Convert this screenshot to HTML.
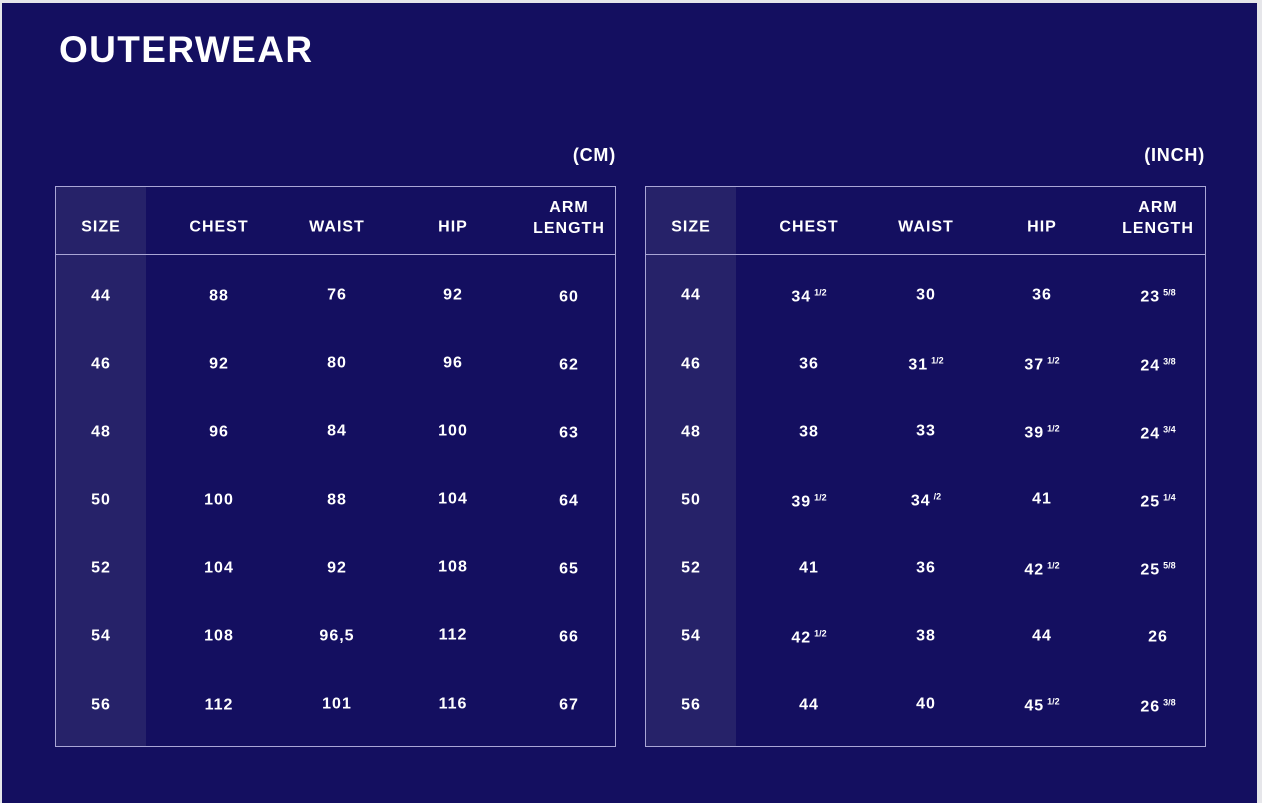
<!DOCTYPE html>
<html><head><meta charset="utf-8"><style>
html,body{margin:0;padding:0}
body{width:1262px;height:803px;background:#e6e6ea;position:relative;overflow:hidden;font-family:"Liberation Sans",sans-serif;color:#fff}
#bg{position:absolute;left:2px;top:3px;width:1255px;height:800px;background:#140f60}
.t{position:absolute;font-weight:bold}
.title{left:59px;top:29px;font-size:37px;letter-spacing:1.4px}
.unit{font-size:18px;top:145px;letter-spacing:.8px}
.tbl{position:absolute;top:186px;width:559px;height:559px;border:1px solid #a9a6d6;box-sizing:content-box}
.sz{position:absolute;left:0;top:0;width:90px;height:100%;background:#262269}
.hl{position:absolute;left:0;right:0;top:67px;height:1px;background:#a9a6d6}
.c{position:absolute;transform:translate(-50%,-50%);font-weight:bold;font-size:16px;letter-spacing:1px;text-align:center;white-space:nowrap;line-height:21px}
.c sup{font-size:9px;vertical-align:6px;margin-left:3px;letter-spacing:0}
</style></head><body>
<div id="bg"></div>
<div class="t title">OUTERWEAR</div>
<div class="t unit" style="right:646px">(CM)</div>
<div class="t unit" style="right:57px">(INCH)</div>

<div class="tbl" style="left:55px">
<div class="sz"></div><div class="hl"></div>
<div class="c" style="left:45px;top:40px">SIZE</div>
<div class="c" style="left:163px;top:40px">CHEST</div>
<div class="c" style="left:281px;top:40px">WAIST</div>
<div class="c" style="left:397px;top:40px">HIP</div>
<div class="c" style="left:513px;top:31px">ARM<br>LENGTH</div>

<div class="c" style="left:45px;top:109px">44</div><div class="c" style="left:163px;top:109px">88</div><div class="c" style="left:281px;top:108px">76</div><div class="c" style="left:397px;top:108px">92</div><div class="c" style="left:513px;top:110px">60</div>
<div class="c" style="left:45px;top:177px">46</div><div class="c" style="left:163px;top:177px">92</div><div class="c" style="left:281px;top:176px">80</div><div class="c" style="left:397px;top:176px">96</div><div class="c" style="left:513px;top:178px">62</div>
<div class="c" style="left:45px;top:245px">48</div><div class="c" style="left:163px;top:245px">96</div><div class="c" style="left:281px;top:244px">84</div><div class="c" style="left:397px;top:244px">100</div><div class="c" style="left:513px;top:246px">63</div>
<div class="c" style="left:45px;top:313px">50</div><div class="c" style="left:163px;top:313px">100</div><div class="c" style="left:281px;top:313px">88</div><div class="c" style="left:397px;top:312px">104</div><div class="c" style="left:513px;top:314px">64</div>
<div class="c" style="left:45px;top:381px">52</div><div class="c" style="left:163px;top:381px">104</div><div class="c" style="left:281px;top:381px">92</div><div class="c" style="left:397px;top:380px">108</div><div class="c" style="left:513px;top:382px">65</div>
<div class="c" style="left:45px;top:449px">54</div><div class="c" style="left:163px;top:449px">108</div><div class="c" style="left:281px;top:449px">96,5</div><div class="c" style="left:397px;top:448px">112</div><div class="c" style="left:513px;top:450px">66</div>
<div class="c" style="left:45px;top:518px">56</div><div class="c" style="left:163px;top:518px">112</div><div class="c" style="left:281px;top:517px">101</div><div class="c" style="left:397px;top:517px">116</div><div class="c" style="left:513px;top:518px">67</div>
</div>

<div class="tbl" style="left:645px">
<div class="sz"></div><div class="hl"></div>
<div class="c" style="left:45px;top:40px">SIZE</div>
<div class="c" style="left:163px;top:40px">CHEST</div>
<div class="c" style="left:280px;top:40px">WAIST</div>
<div class="c" style="left:396px;top:40px">HIP</div>
<div class="c" style="left:512px;top:31px">ARM<br>LENGTH</div>

<div class="c" style="left:45px;top:108px">44</div><div class="c" style="left:163px;top:108px">34<sup>1/2</sup></div><div class="c" style="left:280px;top:108px">30</div><div class="c" style="left:396px;top:108px">36</div><div class="c" style="left:512px;top:108px">23<sup>5/8</sup></div>
<div class="c" style="left:45px;top:177px">46</div><div class="c" style="left:163px;top:177px">36</div><div class="c" style="left:280px;top:176px">31<sup>1/2</sup></div><div class="c" style="left:396px;top:176px">37<sup>1/2</sup></div><div class="c" style="left:512px;top:177px">24<sup>3/8</sup></div>
<div class="c" style="left:45px;top:245px">48</div><div class="c" style="left:163px;top:245px">38</div><div class="c" style="left:280px;top:244px">33</div><div class="c" style="left:396px;top:244px">39<sup>1/2</sup></div><div class="c" style="left:512px;top:245px">24<sup>3/4</sup></div>
<div class="c" style="left:45px;top:313px">50</div><div class="c" style="left:163px;top:313px">39<sup>1/2</sup></div><div class="c" style="left:280px;top:312px">34<sup>/2</sup></div><div class="c" style="left:396px;top:312px">41</div><div class="c" style="left:512px;top:313px">25<sup>1/4</sup></div>
<div class="c" style="left:45px;top:381px">52</div><div class="c" style="left:163px;top:381px">41</div><div class="c" style="left:280px;top:381px">36</div><div class="c" style="left:396px;top:381px">42<sup>1/2</sup></div><div class="c" style="left:512px;top:381px">25<sup>5/8</sup></div>
<div class="c" style="left:45px;top:449px">54</div><div class="c" style="left:163px;top:449px">42<sup>1/2</sup></div><div class="c" style="left:280px;top:449px">38</div><div class="c" style="left:396px;top:449px">44</div><div class="c" style="left:512px;top:450px">26</div>
<div class="c" style="left:45px;top:518px">56</div><div class="c" style="left:163px;top:518px">44</div><div class="c" style="left:280px;top:517px">40</div><div class="c" style="left:396px;top:517px">45<sup>1/2</sup></div><div class="c" style="left:512px;top:518px">26<sup>3/8</sup></div>
</div>
</body></html>
